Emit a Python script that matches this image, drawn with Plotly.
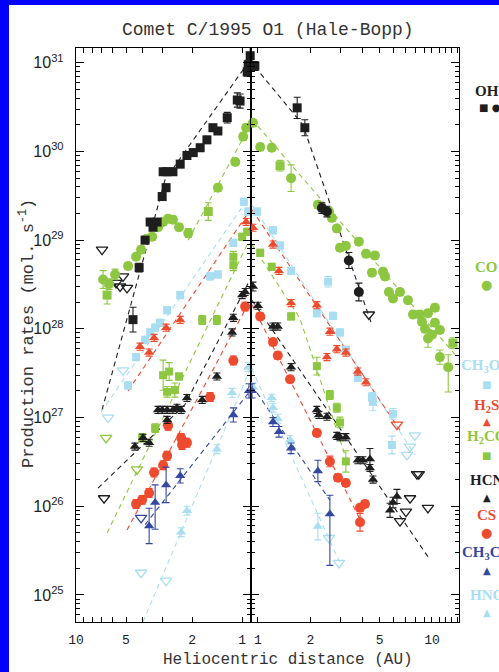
import plotly.graph_objects as go
import math

# ---------------- data (heliocentric distance AU, production rate mol/s) ----------------
# OH
oh_pre_r = [0.895, 0.92, 0.933, 1.03, 1.07, 1.23, 1.40, 1.50, 1.63, 1.79, 1.97, 2.15, 2.36, 2.61, 2.83, 2.99, 2.87, 3.03, 3.25, 3.58, 3.44, 3.84, 4.17, 4.54]
oh_pre_q = [1.2e31, 9.5e30, 7.9e30, 3.7e30, 3.8e30, 2.4e30, 1.7e30, 1.85e30, 1.35e30, 1.1e30, 9.7e29, 9.0e29, 7.2e29, 5.9e29, 5.9e29, 5.9e29, 3.9e29, 3.1e29, 1.6e29, 1.6e29, 1.4e29, 1.0e29, 4.9e28, 1.27e28]
oh_pre_e = [0.1, 0.05, 0.05, 0.08, 0.08, 0.06, 0.04, 0.04, 0.04, 0.04, 0.04, 0.04, 0.04, 0.04, 0.04, 0.04, 0.04, 0.04, 0.04, 0.04, 0.04, 0.04, 0.05, 0.14]
oh_post_sq_r = [0.96, 1.68, 1.86]
oh_post_sq_q = [9.2e30, 3.1e30, 1.85e30]
oh_post_sq_e = [0.05, 0.12, 0.09]
oh_post_ci_r = [2.33, 2.49, 3.33, 3.80]
oh_post_ci_q = [2.3e29, 2.1e29, 5.9e28, 2.6e28]
oh_post_ci_e = [0.06, 0.06, 0.09, 0.1]
oh_lim_pre_r = [6.97, 5.21, 5.74, 5.43, 4.93]
oh_lim_pre_q = [7.8e28, 3.9e28, 3.3e28, 3.0e28, 2.9e28]
oh_lim_post_r = [4.34]
oh_lim_post_q = [1.45e28]
oh_fit_pre_r = [6.97, 2.91, 0.895]
oh_fit_pre_q = [1.22e27, 4.8e29, 1.08e31]
oh_fit_post_r = [0.96, 1.81, 4.52]
oh_fit_post_q = [9.0e30, 2.0e30, 1.1e28]

# CO
co_pre_r = [6.87, 6.32, 5.82, 4.86, 4.35, 4.06, 3.79, 3.48, 3.21, 2.99, 2.79, 2.61, 2.40, 2.11, 1.40, 1.10, 0.986, 0.946]
co_pre_q = [3.6e28, 3.2e28, 4.1e28, 5.1e28, 6.5e28, 7.8e28, 1.03e29, 1.09e29, 1.4e29, 1.6e29, 1.74e29, 1.7e29, 1.4e29, 1.2e29, 3.9e29, 7.6e29, 1.47e30, 1.85e30]
co_pre_e = [0.1, 0.06, 0.06, 0.04, 0.04, 0.04, 0.04, 0.04, 0.04, 0.04, 0.04, 0.04, 0.04, 0.05, 0.04, 0.04, 0.04, 0.04]
co_pre_sq_r = [6.50, 1.60]
co_pre_sq_q = [2.4e28, 2.1e29]
co_fit_pre_r = [2.11, 0.895]
co_fit_pre_q = [1.0e29, 2.0e30]
co_post_r = [0.936, 1.03, 1.20, 1.55, 2.21, 2.56, 2.66, 2.84, 2.96, 3.20, 3.80, 4.18, 4.70, 4.52, 5.23, 5.37, 5.66, 6.55, 5.97, 7.28, 7.78, 8.53, 9.49, 10.4, 8.76, 9.12, 10.4, 11.1, 10.0, 9.49, 11.1, 12.4]
co_post_q = [2.1e30, 1.12e30, 1.1e30, 5.0e29, 2.5e29, 2.1e29, 1.78e29, 1.35e29, 8.2e28, 8.6e28, 9.6e28, 7.0e28, 6.7e28, 4.3e28, 4.4e28, 3.9e28, 2.6e28, 2.6e28, 2.2e28, 2.1e28, 1.45e28, 1.45e28, 1.5e28, 1.73e28, 1.2e28, 1.0e28, 1.17e28, 9.7e27, 8.6e27, 7.8e27, 4.8e27, 3.7e27]
co_post_eu = [0.04, 0.04, 0.04, 0.15, 0.04, 0.04, 0.04, 0.04, 0.04, 0.04, 0.04, 0.04, 0.04, 0.04, 0.04, 0.04, 0.04, 0.04, 0.04, 0.04, 0.04, 0.04, 0.04, 0.04, 0.04, 0.04, 0.04, 0.04, 0.04, 0.1, 0.08, 0.14]
co_post_ed = [0.04, 0.04, 0.04, 0.15, 0.04, 0.04, 0.04, 0.04, 0.04, 0.04, 0.04, 0.04, 0.04, 0.04, 0.04, 0.04, 0.04, 0.04, 0.04, 0.04, 0.04, 0.04, 0.04, 0.04, 0.04, 0.04, 0.04, 0.04, 0.04, 0.1, 0.08, 0.28]
co_post_sq_r = [1.34, 13.2]
co_post_sq_q = [6.9e29, 6.9e27]
co_fit_post_r = [0.924, 14.1]
co_fit_post_q = [2.3e30, 4.7e27]

# H2CO
h2co_pre_r = [4.00, 3.34, 2.99, 2.83, 2.75, 2.54, 2.40, 1.74, 1.42, 1.13, 1.13, 1.00, 0.933]
h2co_pre_q = [5.9e26, 7.6e26, 3.0e27, 1.95e27, 3.3e27, 2.04e27, 2.9e27, 1.26e28, 1.26e28, 6.5e28, 5.2e28, 1.09e29, 1.24e29]
h2co_pre_e = [0.05, 0.05, 0.17, 0.06, 0.1, 0.08, 0.04, 0.05, 0.05, 0.06, 0.06, 0.04, 0.04]
h2co_lim_pre_r = [6.59, 4.30]
h2co_lim_pre_q = [5.9e26, 2.6e26]
h2co_fit_pre_r = [6.50, 0.933]
h2co_fit_pre_q = [5.0e25, 8.9e28]
h2co_post_r = [1.03, 1.20, 1.55, 2.18, 2.59, 2.84, 2.96, 3.20]
h2co_post_q = [7.2e28, 5.0e28, 1.38e28, 3.8e27, 1.8e27, 1.29e27, 8.8e26, 3.2e26]
h2co_post_e = [0.04, 0.04, 0.04, 0.1, 0.05, 0.05, 0.06, 0.12]
h2co_fit_post_r = [0.924, 1.74, 3.29]
h2co_fit_post_q = [8.9e28, 1.32e28, 3.0e26]

# CH3OH
ch3oh_pre_r = [4.86, 4.35, 3.84, 3.58, 3.34, 3.12, 2.83, 2.36, 1.56, 1.40, 1.13, 0.977, 0.92]
ch3oh_pre_q = [2.3e27, 4.8e27, 7.5e27, 9.1e27, 1.03e28, 1.17e28, 1.62e28, 2.4e28, 3.9e28, 4.1e28, 9.3e28, 2.7e29, 2.1e29]
ch3oh_lim_pre_r = [5.21, 6.41]
ch3oh_lim_pre_q = [3.4e27, 1.0e27]
ch3oh_fit_pre_r = [7.06, 0.895]
ch3oh_fit_pre_q = [1.15e27, 3.2e29]
ch3oh_post_r = [0.987, 1.22, 1.34, 1.55, 2.18, 2.53, 2.70, 2.96, 3.20, 3.75, 4.52, 4.58, 5.97, 5.89]
ch3oh_post_q = [2.1e29, 1.29e29, 8.7e28, 4.5e28, 1.5e28, 3.4e28, 1.4e28, 9.1e27, 5.8e27, 2.8e27, 1.7e27, 1.5e27, 1.1e27, 4.9e26]
ch3oh_post_e = [0.04, 0.04, 0.04, 0.04, 0.04, 0.06, 0.04, 0.04, 0.04, 0.04, 0.05, 0.1, 0.06, 0.1]
ch3oh_lim_post_r = [7.98, 7.48, 7.18]
ch3oh_lim_post_q = [6.3e26, 4.7e26, 3.8e26]
ch3oh_fit_post_r = [0.924, 7.98]
ch3oh_fit_post_q = [2.5e29, 3.8e26]

# H2S
h2s_pre_r = [4.12, 3.63, 3.39, 2.87, 2.36, 0.946]
h2s_pre_q = [6.3e27, 5.4e27, 7.9e27, 1.03e28, 1.26e28, 1.6e29]
h2s_fit_pre_r = [4.86, 0.895]
h2s_fit_pre_q = [2.0e27, 2.2e29]
h2s_post_r = [0.936, 1.22, 1.32, 1.55, 2.18, 2.59, 2.49, 2.84, 3.20, 3.75, 4.17]
h2s_post_q = [1.38e29, 8.9e28, 4.5e28, 1.95e28, 1.85e28, 9.3e27, 4.8e27, 5.9e27, 5.4e27, 3.3e27, 2.5e27]
h2s_lim_post_r = [6.29]
h2s_lim_post_q = [8.3e26]
h2s_fit_post_r = [0.924, 6.55]
h2s_fit_post_q = [2.2e29, 7.2e26]

# HCN
hcn_pre_r = [4.42, 3.95, 3.63, 3.21, 3.03, 2.83, 2.61, 2.47, 2.33, 2.83, 2.15, 1.74, 1.42, 1.15, 1.13, 1.00, 0.96]
hcn_pre_q = [4.7e26, 5.9e26, 5.2e26, 1.22e27, 1.22e27, 1.22e27, 1.22e27, 1.29e27, 1.22e27, 9.4e26, 1.66e27, 1.58e27, 2.9e27, 9.1e27, 1.33e28, 2.4e28, 2.6e28]
hcn_lim_pre_r = [6.78]
hcn_lim_pre_q = [1.23e26]
hcn_fit_pre_r = [7.37, 2.21, 0.895]
hcn_fit_pre_q = [1.6e26, 1.4e27, 3.6e28]
hcn_post_r = [0.936, 1.0, 1.22, 1.30, 1.55, 2.18, 2.24, 2.49, 2.84, 2.96, 3.20, 3.75, 4.01, 4.40, 4.40, 4.58, 6.29, 5.97, 5.74]
hcn_post_q = [3.0e28, 1.82e28, 1.06e28, 1.06e28, 3.7e27, 1.22e27, 1.07e27, 1.02e27, 6.2e26, 6.0e26, 6.0e26, 3.3e26, 3.3e26, 3.4e26, 2.7e26, 2.0e26, 1.29e26, 1.1e26, 9.0e25]
hcn_post_e = [0.05, 0.04, 0.04, 0.04, 0.04, 0.04, 0.04, 0.04, 0.04, 0.04, 0.04, 0.04, 0.04, 0.12, 0.04, 0.04, 0.08, 0.06, 0.08]
hcn_lim_post_r = [8.20, 8.40, 7.48, 7.09, 6.55, 9.48]
hcn_lim_post_q = [2.3e26, 2.3e26, 1.23e26, 8.7e25, 6.8e25, 9.6e25]
hcn_fit_post_r = [0.924, 9.48]
hcn_fit_post_q = [2.1e28, 2.7e25]

# CS
cs_pre_r = [4.35, 4.00, 3.63, 3.39, 2.99, 2.83, 2.79, 2.33, 2.30, 2.15, 1.56, 1.13, 0.96]
cs_pre_q = [1.06e26, 1.18e26, 1.41e26, 2.4e26, 2.9e26, 3.7e26, 8.1e26, 5.9e26, 4.9e26, 5.2e26, 1.7e27, 4.4e27, 1.78e28]
cs_fit_pre_r = [4.93, 0.895]
cs_fit_pre_q = [5.4e25, 2.1e28]
cs_post_r = [1.03, 1.22, 1.30, 1.53, 2.18, 2.59, 2.88, 3.20, 3.86, 4.12, 3.86]
cs_post_q = [1.38e28, 7.1e27, 5.0e27, 2.7e27, 6.7e26, 3.2e26, 2.1e26, 1.83e26, 9.6e25, 1.06e26, 6.6e25]
cs_post_e = [0.04, 0.04, 0.04, 0.04, 0.04, 0.06, 0.04, 0.04, 0.04, 0.04, 0.1]
cs_fit_post_r = [0.924, 4.0]
cs_fit_post_q = [1.87e28, 6.2e25]

# CH3CN
ch3cn_pre_r = [3.63, 3.34, 2.87, 2.36, 1.13, 0.91]
ch3cn_pre_q = [6.0e25, 1.1e26, 1.74e26, 2.2e26, 1.07e27, 2.0e27]
ch3cn_pre_eu = [0.2, 0.2, 0.2, 0.08, 0.08, 0.08]
ch3cn_pre_ed = [0.2, 0.3, 0.2, 0.08, 0.08, 0.08]
ch3cn_lim_pre_r = [4.06]
ch3cn_lim_pre_q = [7.4e25]
ch3cn_fit_pre_r = [3.84, 0.895]
ch3cn_fit_pre_q = [6.2e25, 2.0e27]
ch3cn_post_r = [0.924, 1.22, 1.32, 1.55, 2.21, 2.59]
ch3cn_post_q = [2.0e27, 8.9e26, 6.9e26, 4.5e26, 2.5e26, 8.2e25]
ch3cn_post_eu = [0.08, 0.05, 0.06, 0.06, 0.12, 0.21]
ch3cn_post_ed = [0.08, 0.05, 0.06, 0.06, 0.12, 0.58]
ch3cn_fit_post_r = [0.924, 2.59]
ch3cn_fit_post_q = [2.3e27, 1.17e26]

# HNC
hnc_pre_r = [2.33, 2.15, 1.42, 1.15, 0.92]
hnc_pre_q = [5.1e25, 8.9e25, 4.4e26, 1.9e27, 3.7e27]
hnc_lim_pre_r = [4.06, 2.87]
hnc_lim_pre_q = [1.78e25, 1.45e25]
hnc_fit_pre_r = [3.95, 0.895]
hnc_fit_pre_q = [5.0e24, 3.5e27]
hnc_post_r = [0.936, 1.20, 1.22, 1.30, 1.53, 2.21]
hnc_post_q = [2.2e27, 1.67e27, 1.29e27, 9.7e26, 5.6e26, 5.9e25]
hnc_post_e = [0.05, 0.04, 0.05, 0.05, 0.05, 0.15]
hnc_lim_post_r = [2.56, 2.92]
hnc_lim_post_q = [4.4e25, 2.3e25]
hnc_fit_post_r = [0.924, 2.96]
hnc_fit_post_q = [3.5e27, 2.3e25]

# axis ticks / labels
x_tickvals_pre = [1, 2, 3, 4, 5, 6, 7, 8, 9, 10]
x_ticktext_pre = ["1", "2", "", "", "5", "", "", "", "", "10"]
x_tickvals_post = [1, 2, 3, 4, 5, 6, 7, 8, 9, 10, 11, 12, 13, 14]
x_ticktext_post = ["1", "2", "", "", "5", "", "", "", "", "10", "", "", "", ""]
y_exponents = [25, 26, 27, 28, 29, 30, 31]

legend_labels = ["OH", "CO", "CH<sub>3</sub>OH", "H<sub>2</sub>S", "H<sub>2</sub>CO", "HCN", "CS", "CH<sub>3</sub>CN", "HNC"]
legend_symbols = ["■ ●", "●", "■", "▲", "■", "▲", "●", "▲", "▲"]

# ---------------- styling ----------------
BLACK = "#1e1e1e"
GREEN = "#8dc640"
LBLUE = "#a9def2"
RED = "#ee4a2e"
DBLUE = "#3447a3"
legend_colors = [BLACK, GREEN, LBLUE, RED, GREEN, BLACK, RED, DBLUE, LBLUE]
legend_text_y = [91, 267, 366, 406, 437, 480, 515, 553, 595]
legend_sym_y = [107, 284, 384, 421, 455, 497, 532, 570, 612]

W, H = 499, 672
ML, MR, MT, MB = 76, 40, 48, 50
PW = W - ML - MR
PH = H - MT - MB
SPLIT = 175 / PW

fig = go.Figure()


def errs(q, eu, ed=None):
    if ed is None:
        ed = eu
    if not isinstance(eu, list):
        eu = [eu] * len(q)
    if not isinstance(ed, list):
        ed = [ed] * len(q)
    up = [v * (10.0 ** a - 1) for v, a in zip(q, eu)]
    dn = [v * (1 - 10.0 ** (-a)) for v, a in zip(q, ed)]
    return up, dn


def pts(r, q, side, symbol, color, size, eu=0.04, ed=None):
    up, dn = errs(q, eu, ed)
    fig.add_trace(go.Scatter(
        x=r, y=q, mode="markers",
        xaxis="x" if side == 0 else "x2", yaxis="y" if side == 0 else "y2",
        marker=dict(symbol=symbol, color=color, size=size, line=dict(width=0)),
        error_y=dict(type="data", array=up, arrayminus=dn, color=color, thickness=1.1, width=3.5),
        cliponaxis=False, showlegend=False, hoverinfo="skip"))


def lims(r, q, side, color):
    fig.add_trace(go.Scatter(
        x=r, y=q, mode="markers",
        xaxis="x" if side == 0 else "x2", yaxis="y" if side == 0 else "y2",
        marker=dict(symbol="triangle-down-open", color=color, size=10, line=dict(width=1.3, color=color)),
        cliponaxis=False, showlegend=False, hoverinfo="skip"))


def fit(r, q, side, color):
    fig.add_trace(go.Scatter(
        x=r, y=q, mode="lines",
        xaxis="x" if side == 0 else "x2", yaxis="y" if side == 0 else "y2",
        line=dict(color=color, width=1.1, dash="5px,4px"),
        showlegend=False, hoverinfo="skip"))


# fitted lines
fit(oh_fit_pre_r, oh_fit_pre_q, 0, BLACK)
fit(oh_fit_post_r, oh_fit_post_q, 1, BLACK)
fit(co_fit_pre_r, co_fit_pre_q, 0, GREEN)
fit(co_fit_post_r, co_fit_post_q, 1, GREEN)
fit(h2co_fit_pre_r, h2co_fit_pre_q, 0, GREEN)
fit(h2co_fit_post_r, h2co_fit_post_q, 1, GREEN)
fit(ch3oh_fit_pre_r, ch3oh_fit_pre_q, 0, LBLUE)
fit(ch3oh_fit_post_r, ch3oh_fit_post_q, 1, LBLUE)
fit(h2s_fit_pre_r, h2s_fit_pre_q, 0, RED)
fit(h2s_fit_post_r, h2s_fit_post_q, 1, RED)
fit(hcn_fit_pre_r, hcn_fit_pre_q, 0, BLACK)
fit(hcn_fit_post_r, hcn_fit_post_q, 1, BLACK)
fit(cs_fit_pre_r, cs_fit_pre_q, 0, RED)
fit(cs_fit_post_r, cs_fit_post_q, 1, RED)
fit(ch3cn_fit_pre_r, ch3cn_fit_pre_q, 0, DBLUE)
fit(ch3cn_fit_post_r, ch3cn_fit_post_q, 1, DBLUE)
fit(hnc_fit_pre_r, hnc_fit_pre_q, 0, LBLUE)
fit(hnc_fit_post_r, hnc_fit_post_q, 1, LBLUE)

# upper limits
lims(oh_lim_pre_r, oh_lim_pre_q, 0, BLACK)
lims(oh_lim_post_r, oh_lim_post_q, 1, BLACK)
lims(h2co_lim_pre_r, h2co_lim_pre_q, 0, GREEN)
lims(ch3oh_lim_pre_r, ch3oh_lim_pre_q, 0, LBLUE)
lims(ch3oh_lim_post_r, ch3oh_lim_post_q, 1, LBLUE)
lims(h2s_lim_post_r, h2s_lim_post_q, 1, RED)
lims(hcn_lim_pre_r, hcn_lim_pre_q, 0, BLACK)
lims(hcn_lim_post_r, hcn_lim_post_q, 1, BLACK)
lims(ch3cn_lim_pre_r, ch3cn_lim_pre_q, 0, DBLUE)
lims(hnc_lim_pre_r, hnc_lim_pre_q, 0, LBLUE)
lims(hnc_lim_post_r, hnc_lim_post_q, 1, LBLUE)

# detections
pts(ch3oh_pre_r, ch3oh_pre_q, 0, "square", LBLUE, 8)
pts(ch3oh_post_r, ch3oh_post_q, 1, "square", LBLUE, 8, ch3oh_post_e)
pts(hnc_pre_r, hnc_pre_q, 0, "triangle-up", LBLUE, 9, 0.05)
pts(hnc_post_r, hnc_post_q, 1, "triangle-up", LBLUE, 9, hnc_post_e)
pts(co_pre_r, co_pre_q, 0, "circle", GREEN, 10, co_pre_e)
pts(co_pre_sq_r, co_pre_sq_q, 0, "square", GREEN, 9, 0.1)
pts(co_post_r, co_post_q, 1, "circle", GREEN, 10, co_post_eu, co_post_ed)
pts(co_post_sq_r, co_post_sq_q, 1, "square", GREEN, 9, 0.06)
pts(h2co_pre_r, h2co_pre_q, 0, "square", GREEN, 8, h2co_pre_e)
pts(h2co_post_r, h2co_post_q, 1, "square", GREEN, 8, h2co_post_e)
pts(h2s_pre_r, h2s_pre_q, 0, "triangle-up", RED, 9)
pts(h2s_post_r, h2s_post_q, 1, "triangle-up", RED, 9)
pts(cs_pre_r, cs_pre_q, 0, "circle", RED, 10, 0.05)
pts(cs_post_r, cs_post_q, 1, "circle", RED, 10, cs_post_e)
pts(ch3cn_pre_r, ch3cn_pre_q, 0, "triangle-up", DBLUE, 9, ch3cn_pre_eu, ch3cn_pre_ed)
pts(ch3cn_post_r, ch3cn_post_q, 1, "triangle-up", DBLUE, 9, ch3cn_post_eu, ch3cn_post_ed)
pts(hcn_pre_r, hcn_pre_q, 0, "triangle-up", BLACK, 9)
pts(hcn_post_r, hcn_post_q, 1, "triangle-up", BLACK, 9, hcn_post_e)
pts(oh_pre_r, oh_pre_q, 0, "square", BLACK, 9, oh_pre_e)
pts(oh_post_sq_r, oh_post_sq_q, 1, "square", BLACK, 9, oh_post_sq_e)
pts(oh_post_ci_r, oh_post_ci_q, 1, "circle", BLACK, 10, oh_post_ci_e)

# ---------------- axes ----------------
y_range = [24.695, 31.166]
y_tickvals = [10.0 ** e for e in y_exponents]
y_ticktext = ["10<sup>%d</sup>" % e for e in y_exponents]
y_minor = [m * 10.0 ** e for e in range(24, 32) for m in range(2, 10)]

axis_common = dict(showline=True, linecolor="black", linewidth=1.4, mirror="allticks",
                   ticks="inside", tickcolor="black", showgrid=False, zeroline=False)

fig.update_layout(
    width=W, height=H,
    margin=dict(l=ML, r=MR, t=MT, b=MB, pad=0),
    paper_bgcolor="white", plot_bgcolor="white",
    xaxis=dict(type="log", domain=[0, SPLIT], range=[1, math.log10(0.885)], anchor="y",
               tickmode="array", tickvals=x_tickvals_pre, ticktext=x_ticktext_pre, ticklen=5, tickwidth=1,
               tickfont=dict(family="Liberation Mono", size=13, color="#222"), ticklabelstandoff=5,
               **axis_common),
    xaxis2=dict(type="log", domain=[SPLIT, 1], range=[math.log10(0.912), math.log10(14.3)], anchor="y2",
                tickmode="array", tickvals=x_tickvals_post, ticktext=x_ticktext_post, ticklen=5, tickwidth=1,
                tickfont=dict(family="Liberation Mono", size=13, color="#222"), ticklabelstandoff=5,
                **axis_common),
    yaxis=dict(type="log", range=y_range, anchor="x", tickmode="array", tickvals=y_tickvals, ticktext=y_ticktext,
               ticklen=8, tickwidth=1.2, tickfont=dict(family="Liberation Sans", size=16, color="#222"),
               ticklabelstandoff=8,
               minor=dict(tickmode="array", tickvals=y_minor, ticks="inside", ticklen=4, tickcolor="black", showgrid=False),
               **axis_common),
    yaxis2=dict(type="log", range=y_range, anchor="x2", tickmode="array", tickvals=y_tickvals, showticklabels=False,
                ticklen=8, tickwidth=1.2,
                minor=dict(tickmode="array", tickvals=y_minor, ticks="inside", ticklen=4, tickcolor="black", showgrid=False),
                **axis_common),
)


def px_x(px):
    return (px - ML) / PW


def px_y(py):
    return (H - MB - py) / PH


ann = []
ann.append(dict(text="Comet C/1995 O1 (Hale-Bopp)", x=px_x(268), y=px_y(30), xref="paper", yref="paper",
                showarrow=False, font=dict(family="Liberation Mono", size=18, color="#333"),
                xanchor="center", yanchor="middle"))
ann.append(dict(text="Heliocentric distance (AU)", x=px_x(288), y=px_y(660), xref="paper", yref="paper",
                showarrow=False, font=dict(family="Liberation Mono", size=16, color="#333"),
                xanchor="center", yanchor="middle"))
ann.append(dict(text="Production rates (mol. s<sup>-1</sup>)", x=px_x(27), y=px_y(334), xref="paper", yref="paper",
                showarrow=False, textangle=-90, font=dict(family="Liberation Mono", size=17, color="#333"),
                xanchor="center", yanchor="middle"))
for lab, sym, col, ty, sy in zip(legend_labels, legend_symbols, legend_colors, legend_text_y, legend_sym_y):
    ann.append(dict(text="<b>%s</b>" % lab, x=px_x(487), y=px_y(ty), xref="paper", yref="paper", showarrow=False,
                    font=dict(family="Liberation Serif", size=15, color=col), xanchor="center", yanchor="middle"))
    ann.append(dict(text=sym, x=px_x(487 if sym != "■ ●" else 490), y=px_y(sy), xref="paper", yref="paper",
                    showarrow=False, font=dict(family="DejaVu Sans", size=10 if sym != "●" else 13, color=col),
                    xanchor="center", yanchor="middle"))
fig.update_layout(annotations=ann)

# blue frame strips (left and top edges of the slide)
fig.add_shape(type="rect", xref="paper", yref="paper", x0=px_x(0), x1=px_x(9), y0=px_y(H), y1=px_y(0),
              fillcolor="#0000ff", line=dict(width=0), layer="above")
fig.add_shape(type="rect", xref="paper", yref="paper", x0=px_x(0), x1=px_x(W), y0=px_y(5), y1=px_y(0),
              fillcolor="#0000ff", line=dict(width=0), layer="above")

fig.write_html("out.html")
